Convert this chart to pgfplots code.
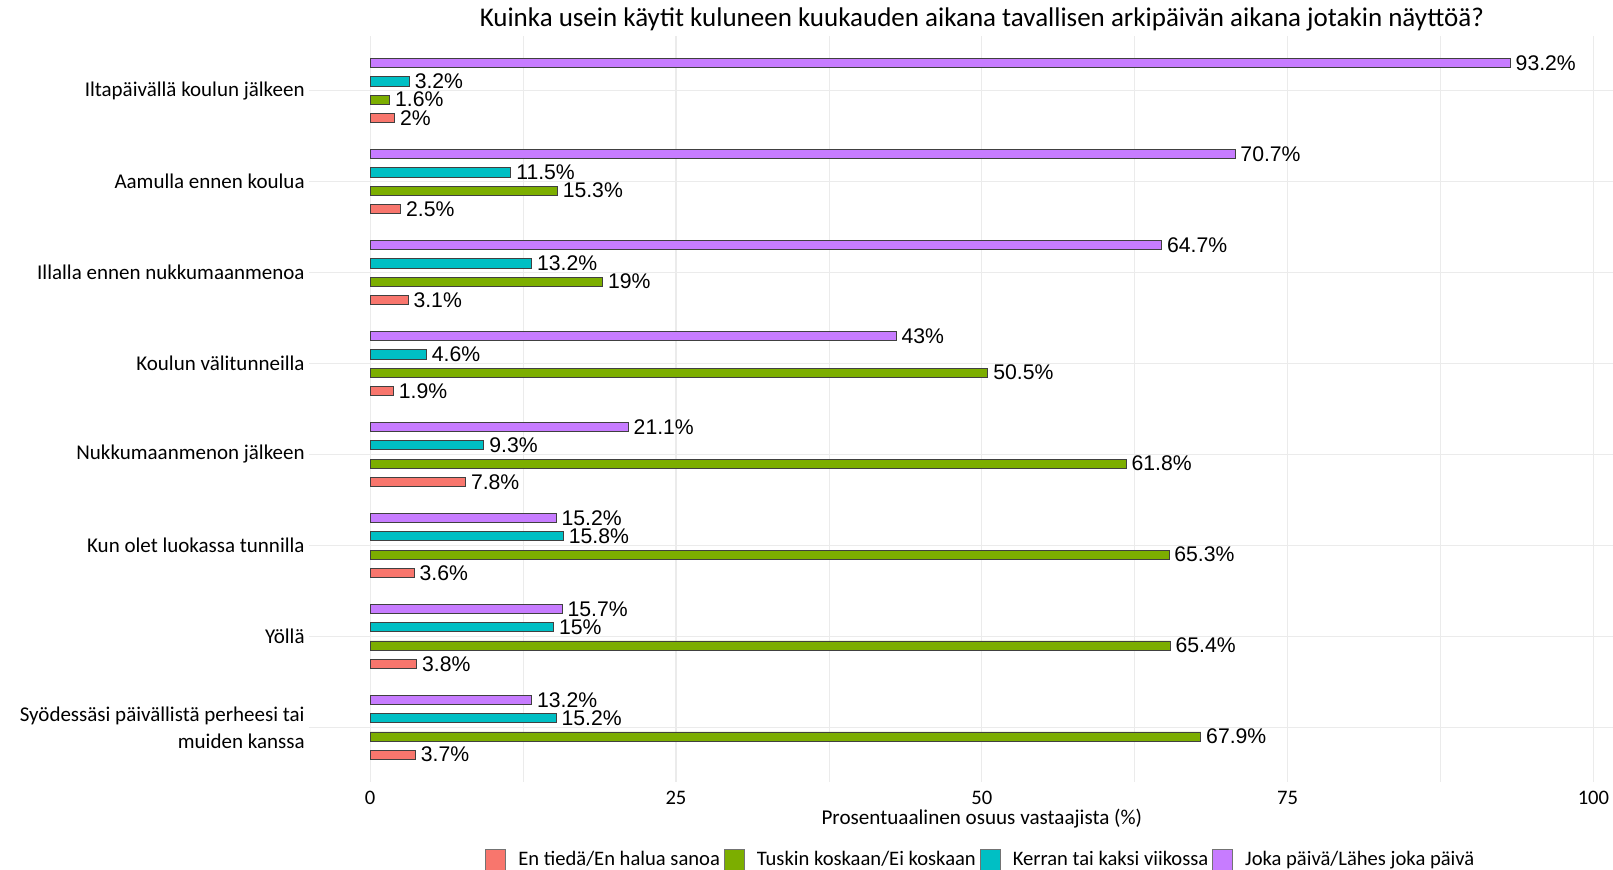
\documentclass[border=0pt]{standalone}
\usepackage{fontspec}
\setmainfont{Carlito}
\newfontfamily\valfont{Liberation Sans}
\usepackage{pgfplots}
\pgfplotsset{compat=1.18}
\definecolor{cRed}{HTML}{F8766D}
\definecolor{cGreen}{HTML}{7CAE00}
\definecolor{cTeal}{HTML}{00BFC4}
\definecolor{cPurple}{HTML}{C77CFF}
\definecolor{gridc}{HTML}{EBEBEB}
\begin{document}
\begin{tikzpicture}
\begin{axis}[
  name=ax,
  scale only axis,
  width=652pt, height=373pt,
  xbar, bar width=0.1,
  xmin=-5, xmax=101.6,
  ymin=0.4, ymax=8.6,
  y dir=reverse,
  clip=false,
  ytick={1,2,3,4,5,6,7,8},
  yticklabels={Iltapäivällä koulun jälkeen, Aamulla ennen koulua, Illalla ennen nukkumaanmenoa, Koulun välitunneilla, Nukkumaanmenon jälkeen, Kun olet luokassa tunnilla, Yöllä, {Syödessäsi päivällistä perheesi tai\\muiden kanssa}},
  xtick={0,25,50,75,100},
  minor xtick={12.5,37.5,62.5,87.5},
  xmajorgrids, xminorgrids, ymajorgrids,
  major grid style={gridc, line width=0.6pt},
  minor grid style={gridc, line width=0.3pt},
  axis line style={draw=none},
  major tick length=0pt, minor tick length=0pt,
  tick style={draw=none},
  /pgf/number format/assume math mode=true,
  ticklabel style={font=\fontsize{10.3}{13.5}\selectfont, text=black},
  yticklabel style={align=right, inner sep=2pt, font=\fontsize{10.5}{13.5}\selectfont},
  xticklabel style={yshift=-1pt},
  xlabel={Prosentuaalinen osuus vastaajista (\%)},
  xlabel style={at={(axis description cs:0.516,0)}, anchor=center, yshift=-18.5pt, font=\fontsize{10.55}{12}\selectfont},
  title={Kuinka usein käytit kuluneen kuukauden aikana tavallisen arkipäivän aikana jotakin näyttöä?},
  title style={at={(axis description cs:0.516,1)}, anchor=center, yshift=2.5pt, font=\fontsize{13.5}{15}\selectfont},
  point meta=x,
  nodes near coords={\pgfmathprintnumber[fixed,precision=1,assume math mode=true]{\pgfplotspointmeta}\%},
  nodes near coords style={font=\valfont\fontsize{10.6}{12}\selectfont, anchor=west, inner xsep=2.5pt, inner ysep=0.5pt, text=black},
  every axis plot post/.append style={draw=black!75, line width=0.45pt},
  legend columns=4,
  legend style={at={(axis description cs:0.516,-0.1046)}, anchor=center, draw=none, fill=none,
    font=\fontsize{10.3}{12}\selectfont,
    /tikz/every odd column/.append style={column sep=4pt}},
]
\addplot[fill=cRed, bar shift=0.3, legend image code/.code={\draw[fill=cRed, draw=black!55] (0pt,-5.5pt) rectangle (10pt,5.5pt);}] coordinates {(2,1) (2.5,2) (3.1,3) (1.9,4) (7.8,5) (3.6,6) (3.8,7) (3.7,8)};
\addplot[fill=cGreen, bar shift=0.1, legend image code/.code={\draw[fill=cGreen, draw=black!55] (0pt,-5.5pt) rectangle (10pt,5.5pt);}] coordinates {(1.6,1) (15.3,2) (19,3) (50.5,4) (61.8,5) (65.3,6) (65.4,7) (67.9,8)};
\addplot[fill=cTeal, bar shift=-0.1, legend image code/.code={\draw[fill=cTeal, draw=black!55] (0pt,-5.5pt) rectangle (10pt,5.5pt);}] coordinates {(3.2,1) (11.5,2) (13.2,3) (4.6,4) (9.3,5) (15.8,6) (15,7) (15.2,8)};
\addplot[fill=cPurple, bar shift=-0.3, legend image code/.code={\draw[fill=cPurple, draw=black!55] (0pt,-5.5pt) rectangle (10pt,5.5pt);}] coordinates {(93.2,1) (70.7,2) (64.7,3) (43,4) (21.1,5) (15.2,6) (15.7,7) (13.2,8)};
\legend{En tiedä/En halua sanoa, Tuskin koskaan/Ei koskaan, Kerran tai kaksi viikossa, Joka päivä/Lähes joka päivä}
\end{axis}
\pgfresetboundingbox
\path ([xshift=-154.5pt,yshift=-44pt]ax.south west) rectangle ([yshift=18pt]ax.north east);
\end{tikzpicture}
\end{document}
